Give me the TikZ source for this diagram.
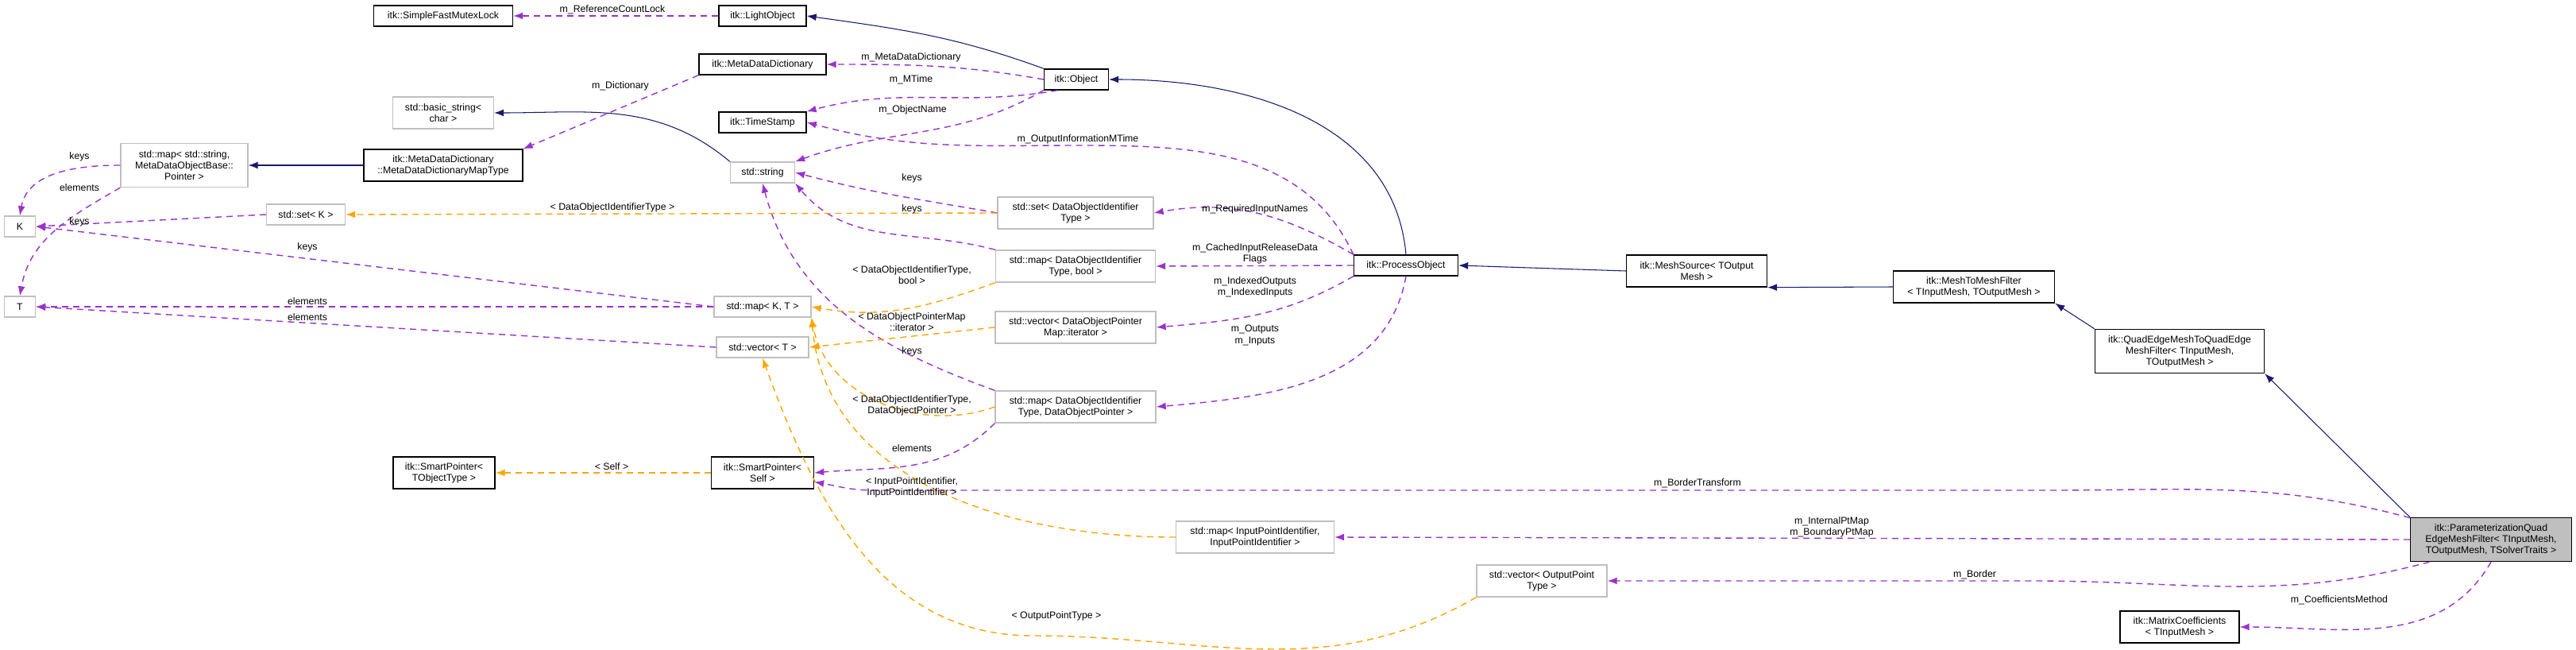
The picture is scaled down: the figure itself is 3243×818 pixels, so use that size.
\documentclass[tikz,border=0pt]{standalone}
\usepackage{fontspec}
\setmainfont{Liberation Sans}
\usetikzlibrary{arrows.meta}
\definecolor{inh}{RGB}{25,25,112}
\definecolor{usage}{RGB}{153,50,204}
\definecolor{tmpl}{RGB}{255,165,0}
\definecolor{ext}{RGB}{191,191,191}
\tikzset{
  box/.style={draw=black, line width=0.8pt, inner sep=1pt, align=center, minimum height=0.52cm, font=\fontsize{7}{8}\selectfont},
  xbox/.style={box, draw=ext},
  lbl/.style={inner sep=0pt, align=center, font=\fontsize{7}{8}\selectfont},
  base/.style={draw=inh, line width=0.6pt, -{Latex[length=2.4mm,width=1.8mm]}},
  use/.style={draw=usage, line width=0.8pt, dash pattern=on 1.6mm off 1.2mm, -{Latex[length=2.4mm,width=1.8mm]}, usage},
  inst/.style={draw=tmpl, line width=0.8pt, dash pattern=on 1.6mm off 1.2mm, -{Latex[length=2.4mm,width=1.8mm]}, tmpl}
}
\begin{document}
\begin{tikzpicture}[x=0.02cm, y=-0.02cm]
  \useasboundingbox (0,0) rectangle (3243,818);
  % Define classes
  \node[box, minimum width=3.5cm] (mutex) at (558,20) {itk::SimpleFastMutexLock};
  \node[box, minimum width=2.2cm] (light) at (960,20) {itk::LightObject};
  \node[box, minimum width=3.2cm] (mdd) at (960,81) {itk::MetaDataDictionary};
  \node[box, minimum width=1.62cm] (object) at (1355,100) {itk::Object};
  \node[box, minimum width=2.2cm] (stamp) at (960,154) {itk::TimeStamp};
  \node[xbox, minimum width=1.62cm] (string) at (960,217) {std::string};
  \node[xbox, minimum width=2.54cm, minimum height=0.8cm] (basic) at (558,142) {std::basic\_string\textless\\char \textgreater};
  \node[box, minimum width=4cm, minimum height=0.8cm] (mddmap) at (558,208) {itk::MetaDataDictionary\\::MetaDataDictionaryMapType};
  \node[xbox, minimum width=3.2cm, minimum height=1.1cm] (strmap) at (232,208) {std::map\textless{} std::string,\\MetaDataObjectBase::\\Pointer \textgreater};
  \node[xbox, minimum width=0.78cm] (kk) at (25,285) {K};
  \node[xbox, minimum width=0.78cm] (tt) at (25,386) {T};
  \node[xbox, minimum width=1.98cm] (setk) at (385,270) {std::set\textless{} K \textgreater};
  \node[xbox, minimum width=3.92cm, minimum height=0.8cm] (setid) at (1354,268) {std::set\textless{} DataObjectIdentifier\\Type \textgreater};
  \node[xbox, minimum width=4.02cm, minimum height=0.8cm] (mapbool) at (1354,335) {std::map\textless{} DataObjectIdentifier\\Type, bool \textgreater};
  \node[xbox, minimum width=2.44cm] (mapkt) at (960,386) {std::map\textless{} K, T \textgreater};
  \node[xbox, minimum width=2.32cm] (vect) at (960,437) {std::vector\textless{} T \textgreater};
  \node[xbox, minimum width=4.04cm, minimum height=0.8cm] (veciter) at (1354,412) {std::vector\textless{} DataObjectPointer\\Map::iterator \textgreater};
  \node[xbox, minimum width=4.04cm, minimum height=0.8cm] (mapptr) at (1354,512) {std::map\textless{} DataObjectIdentifier\\Type, DataObjectPointer \textgreater};
  \node[box, minimum width=2.56cm, minimum height=0.8cm] (sptype) at (559,595) {itk::SmartPointer\textless\\TObjectType \textgreater};
  \node[box, minimum width=2.58cm, minimum height=0.8cm] (spself) at (960,595) {itk::SmartPointer\textless\\Self \textgreater};
  \node[xbox, minimum width=3.98cm, minimum height=0.8cm] (mapipi) at (1580,676) {std::map\textless{} InputPointIdentifier,\\InputPointIdentifier \textgreater};
  \node[xbox, minimum width=3.28cm, minimum height=0.8cm] (vecopt) at (1941,731) {std::vector\textless{} OutputPoint\\Type \textgreater};
  \node[box, minimum width=2.62cm] (process) at (1770,334) {itk::ProcessObject};
  \node[box, minimum width=3.54cm, minimum height=0.8cm] (source) at (2136,341) {itk::MeshSource\textless{} TOutput\\Mesh \textgreater};
  \node[box, minimum width=4.06cm, minimum height=0.8cm] (m2m) at (2485,361) {itk::MeshToMeshFilter\\\textless{} TInputMesh, TOutputMesh \textgreater};
  \node[box, minimum width=4.26cm, minimum height=1.1cm] (qe) at (2744,442) {itk::QuadEdgeMeshToQuadEdge\\MeshFilter\textless{} TInputMesh,\\TOutputMesh \textgreater};
  \node[box, fill=ext, minimum width=4.06cm, minimum height=1.1cm] (param) at (3136,679) {itk::ParameterizationQuad\\EdgeMeshFilter\textless{} TInputMesh,\\TOutputMesh, TSolverTraits \textgreater};
  \node[box, minimum width=3cm, minimum height=0.8cm] (coeff) at (2744,789) {itk::MatrixCoefficients\\\textless{} TInputMesh \textgreater};

  % Inheritance
  \draw[base] (object.north west) to[out=160,in=-8] (light.east);
  \draw[base] (process.north) to[out=95,in=0] (object.east);
  \draw[base] (string.north west) to[out=140,in=0] (basic.east);
  \draw[base] (mddmap.west) -- (strmap.east);
  \draw[base] (source.west) -- (process.east);
  \draw[base] (m2m.west) -- (source.south east);
  \draw[base] (qe.north west) -- (m2m.south east);
  \draw[base] (param.north west) -- (qe.south east);

  % Members
  \draw[use] (light.west) -- (mutex.east);
  \draw[use] (object.west) to[out=170,in=0] (mdd.east);
  \draw[use] (object.210) to[out=190,in=15] (stamp.north east);
  \draw[use] (object.south west) to[out=210,in=20] (string.north east);
  \draw[use] (mdd.south west) -- (mddmap.north east);
  \draw[use] (process.north west) to[out=115,in=0] (1357,183) to[out=180,in=-15] (stamp.east);
  \draw[use] (process.north west) to[out=150,in=10] (setid.east);
  \draw[use] (process.west) -- (mapbool.east);
  \draw[use] (process.south west) to[out=210,in=5] (veciter.east);
  \draw[use] (process.south) to[out=-100,in=5] (mapptr.east);
  \draw[use] (setid.west) to[out=170,in=-15] (string.east);
  \draw[use] (mapbool.north west) to[out=165,in=-50] (string.south east);
  \draw[use] (mapptr.north west) to[out=160,in=-75] (string.south);
  \draw[use] (strmap.west) to[out=180,in=80] (kk.north);
  \draw[use] (strmap.south west) to[out=210,in=80] (tt.north);
  \draw[use] (setk.west) -- (kk.east);
  \draw[use] (mapkt.west) -- (kk.east);
  \draw[use] (mapkt.west) -- (tt.east);
  \draw[use] (vect.west) -- (tt.east);
  \draw[use] (mapptr.south west) to[out=225,in=5] (spself.east);
  \draw[use] (param.165) to[out=165,in=0] (2580,617) -- (1100,617) to[out=180,in=-10] (spself.-10);
  \draw[use] (param.west) -- (mapipi.east);
  \draw[use] (param.200) to[out=195,in=0] (2560,731) -- (vecopt.east);
  \draw[use] (param.south) to[out=-120,in=0] (coeff.east);

  % Template instances
  \draw[inst] (setid.west) -- (setk.east);
  \draw[inst] (mapbool.south west) to[out=200,in=-10] (mapkt.east);
  \draw[inst] (veciter.west) -- (vect.east);
  \draw[inst] (mapptr.west) to[out=200,in=-80] (mapkt.south east);
  \draw[inst] (mapipi.west) to[out=180,in=-85] (mapkt.south east);
  \draw[inst] (vecopt.south west) to[out=210,in=0] (1300,800) to[out=180,in=-70] (vect.south);
  \draw[inst] (spself.west) -- (sptype.east);

  % Labels
  \node[lbl] at (771,12) {m\_ReferenceCountLock};
  \node[lbl] at (781,108) {m\_Dictionary};
  \node[lbl] at (1147,72) {m\_MetaDataDictionary};
  \node[lbl] at (1147,100) {m\_MTime};
  \node[lbl] at (1149,138) {m\_ObjectName};
  \node[lbl] at (1357,175) {m\_OutputInformationMTime};
  \node[lbl] at (1148,224) {keys};
  \node[lbl] at (1148,263) {keys};
  \node[lbl] at (771,261) {\textless{} DataObjectIdentifierType \textgreater};
  \node[lbl] at (100,197) {keys};
  \node[lbl] at (100,236) {elements};
  \node[lbl] at (100,279) {keys};
  \node[lbl] at (387,311) {keys};
  \node[lbl] at (387,379) {elements};
  \node[lbl] at (387,399) {elements};
  \node[lbl] at (1580,263) {m\_RequiredInputNames};
  \node[lbl] at (1580,319) {m\_CachedInputReleaseData\\Flags};
  \node[lbl] at (1580,361) {m\_IndexedOutputs\\m\_IndexedInputs};
  \node[lbl] at (1148,346) {\textless{} DataObjectIdentifierType,\\bool \textgreater};
  \node[lbl] at (1148,405) {\textless{} DataObjectPointerMap\\::iterator \textgreater};
  \node[lbl] at (1148,442) {keys};
  \node[lbl] at (1148,510) {\textless{} DataObjectIdentifierType,\\DataObjectPointer \textgreater};
  \node[lbl] at (1148,564) {elements};
  \node[lbl] at (1148,613) {\textless{} InputPointIdentifier,\\InputPointIdentifier \textgreater};
  \node[lbl] at (770,587) {\textless{} Self \textgreater};
  \node[lbl] at (1580,422) {m\_Outputs\\m\_Inputs};
  \node[lbl] at (2137,608) {m\_BorderTransform};
  \node[lbl] at (2306,663) {m\_InternalPtMap\\m\_BoundaryPtMap};
  \node[lbl] at (2486,723) {m\_Border};
  \node[lbl] at (1330,775) {\textless{} OutputPointType \textgreater};
  \node[lbl] at (2945,755) {m\_CoefficientsMethod};
\end{tikzpicture}
\end{document}
